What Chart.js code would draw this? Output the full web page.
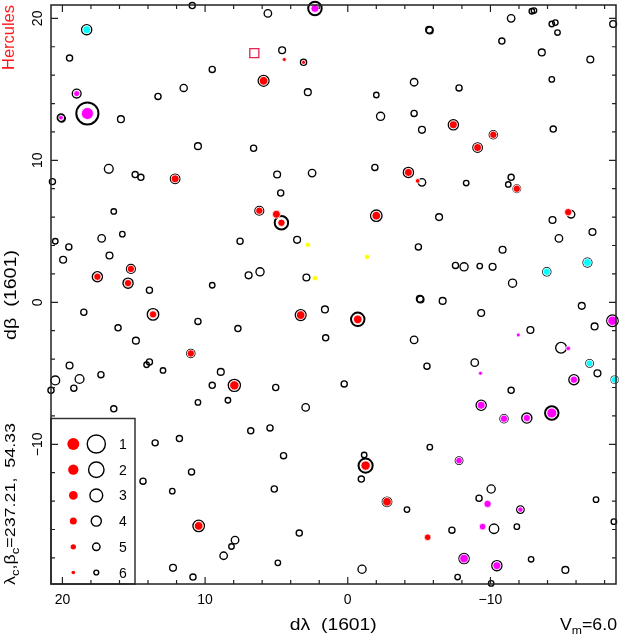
<!DOCTYPE html>
<html>
<head>
<meta charset="utf-8">
<script src="https://cdn.jsdelivr.net/npm/chart.js@4.4.1/dist/chart.umd.min.js"></script>
<style>
  html, body { margin: 0; padding: 0; background: #fff; }
  #wrap { width: 620px; height: 636px; }
</style>
</head>
<body>
<div id="wrap"><canvas id="chart__stars" width="620" height="636"></canvas></div>
<script>
// every star is [dλ, dβ, magnitude]
const openStars = [
  [10.9, 20.9, 5.5], [18.3, 19.2, 4], [19.5, 17.2, 5.5], [9.5, 16.4, 5.5], [19.0, 14.7, 4.5],
  [11.5, 15.1, 5.1], [13.3, 14.5, 5.5], [18.25, 13.3, -0.5], [20.1, 13.0, 5], [20.05, 12.95, 5.1],
  [15.9, 12.9, 5.25], [10.5, 11.0, 5.25], [16.75, 9.4, 4.5], [14.9, 9.0, 5.5], [14.5, 8.8, 5.5],
  [12.1, 8.7, 4.25], [20.7, 8.5, 5.5], [16.4, 6.4, 5.75], [5.6, 20.35, 5], [2.3, 20.7, 2.75],
  [4.6, 17.75, 5.25], [3.1, 16.9, 5.5], [5.9, 15.6, 3.75], [2.8, 14.8, 5.25], [-2.0, 14.6, 5.75],
  [-4.65, 15.5, 5], [-2.3, 13.1, 4.75], [-4.65, 13.3, 5.5], [-5.2, 12.15, 5.25], [6.6, 10.85, 5.5],
  [4.95, 9.0, 5.25], [2.5, 9.1, 5], [-1.9, 9.5, 5.5], [-4.25, 9.15, 4], [-5.2, 8.45, 5],
  [4.7, 7.7, 5.5], [6.2, 6.45, 4.5], [4.65, 5.6, 2.75], [-2.0, 6.1, 3.5], [-5.7, 19.2, 5.25],
  [-5.75, 19.15, 5.25], [-11.45, 20.0, 5], [-12.9, 20.5, 5.75], [-13.05, 20.55, 5.75], [-14.3, 19.6, 5.75],
  [-14.55, 19.7, 5.75], [-14.7, 19.0, 5.75], [-18.6, 19.6, 5.25], [-10.8, 18.4, 5.5], [-13.6, 17.6, 5.25],
  [-17.0, 17.1, 5.25], [-7.8, 15.1, 5.5], [-14.3, 15.7, 5.75], [-7.4, 12.5, 4], [-10.2, 11.8, 4.75],
  [-9.1, 10.9, 4.25], [-14.4, 12.2, 5.5], [-8.3, 8.4, 5.75], [-11.45, 8.8, 5.5], [-11.25, 8.3, 5.75],
  [-11.85, 8.0, 5], [-15.65, 6.2, 5], [-6.4, 6.0, 5.25], [20.5, 4.3, 5.75], [19.55, 3.9, 5.5],
  [17.25, 4.5, 5], [15.8, 4.8, 5.75], [19.95, 3.0, 5.25], [16.7, 3.3, 5.25], [15.2, 2.35, 4.5],
  [17.55, 1.8, 4], [15.4, 1.35, 4], [13.9, 0.85, 5.5], [9.5, 1.2, 5.75], [18.5, -0.7, 5.5],
  [13.65, -0.85, 3.5], [10.5, -1.35, 5.5], [16.1, -1.8, 5.5], [14.85, -2.7, 5.25], [11.0, -3.6, 4.75],
  [14.1, -4.4, 5.75], [13.9, -4.2, 5.5], [12.95, -4.8, 5.75], [19.5, -4.45, 5.25], [20.5, -5.5, 4.5],
  [20.8, -6.2, 5.5], [18.8, -5.4, 4.5], [19.2, -6.05, 5.5], [17.3, -5.1, 5.5], [16.4, -7.5, 5.5],
  [9.5, -5.85, 5.5], [10.5, -7.05, 5.75], [7.55, 4.3, 5.5], [3.55, 4.4, 5.25], [2.9, 1.75, 5.25],
  [6.95, 1.9, 5.25], [6.15, 2.15, 4.75], [-4.95, 3.9, 5.5], [-5.05, 0.25, 5.25], [-5.1, 0.2, 5.25],
  [3.3, -0.9, 3.75], [1.6, -0.5, 5.25], [-0.7, -1.2, 2.75], [7.7, -1.85, 5.5], [1.55, -2.5, 5.5],
  [-4.65, -2.65, 5], [8.9, -4.9, 5.25], [7.95, -5.85, 3.25], [8.4, -6.9, 5.75], [5.05, -6.0, 5.5],
  [0.25, -5.75, 5.5], [2.95, -7.4, 5], [-14.35, 5.8, 5.25], [-17.15, 4.95, 5.25], [-14.8, 4.5, 5],
  [-10.85, 3.7, 5.25], [-7.55, 2.6, 5.5], [-8.15, 2.5, 4.75], [-9.25, 2.55, 5.75], [-10.15, 2.5, 5.25],
  [-11.55, 1.35, 4.75], [-13.95, 2.15, 4.75], [-16.8, 2.8, 4.5], [-6.65, 0.1, 5.25], [-16.4, -0.25, 5.25],
  [-9.35, -0.75, 5.25], [-18.55, -1.3, 3.5], [-12.8, -1.95, 5.25], [-17.3, -1.7, 5.25], [-14.95, -3.2, 3.75],
  [-8.9, -4.25, 5], [-5.55, -4.5, 5.5], [-16.95, -4.3, 5], [-17.5, -5.0, 5.25], [-15.85, -5.45, 4],
  [-18.7, -5.45, 5.25], [-11.45, -6.2, 5.5], [-9.35, -7.25, 4], [-10.95, -8.2, 4.75], [-12.55, -8.15, 4],
  [-14.3, -7.8, 2.75], [13.5, -9.9, 5.5], [11.8, -9.6, 5.5], [10.95, -11.95, 5.5], [14.35, -12.6, 5.5],
  [12.3, -13.3, 5.75], [10.45, -15.75, 3.5], [12.25, -18.7, 5.25], [10.85, -19.35, 5.5], [6.8, -9.05, 5.5],
  [5.45, -8.85, 5.5], [4.5, -10.8, 5.5], [5.15, -13.15, 5.5], [-1.15, -10.75, 5.75], [-1.25, -11.5, 2.5],
  [-0.95, -12.45, 5.5], [-2.75, -14.05, 4.25], [-4.15, -14.6, 5.75], [3.4, -16.25, 5.5], [7.9, -16.75, 5],
  [8.15, -17.2, 5.75], [8.7, -17.85, 5], [4.9, -18.35, 5.75], [-1.0, -18.8, 4.75], [-5.75, -10.2, 5.75],
  [-7.8, -11.15, 5], [-10.05, -13.15, 4.75], [-9.2, -13.8, 5.5], [-12.1, -14.6, 5], [-17.4, -13.9, 5.75],
  [-18.65, -15.45, 5.75], [-7.3, -16.05, 5.5], [-10.25, -15.95, 4.25], [-11.85, -15.8, 5.75], [-8.15, -18.05, 4],
  [-10.45, -18.55, 4], [-12.85, -18.1, 5.75], [-15.25, -18.85, 5.25], [-7.7, -19.35, 5.75], [-10.05, -19.8, 5.75]
];

const redStars = [
  [12.1, 8.7, 3.4], [4.45, 17.1, 5.8], [3.1, 16.9, 5.8], [5.9, 15.6, 3], [-4.25, 9.15, 3.4],
  [-4.9, 8.55, 5.4], [6.2, 6.45, 3.8], [5.0, 6.2, 3.4], [4.65, 5.6, 3.8], [-2.0, 6.1, 3],
  [-7.4, 12.5, 3.4], [-10.2, 11.8, 3.8], [-9.1, 10.9, 3.4], [-11.85, 8.0, 3.8], [-15.45, 6.35, 3.8],
  [15.2, 2.35, 3.8], [17.55, 1.8, 3.8], [15.4, 1.35, 3.8], [13.65, -0.85, 3.8], [11.0, -3.6, 3.8],
  [3.3, -0.9, 3], [-0.7, -1.2, 3], [7.95, -5.85, 2.6], [10.45, -15.75, 3], [-1.25, -11.5, 2.6],
  [-2.75, -14.05, 3], [-5.6, -16.55, 4.2]
];

const magentaStars = [
  [19.0, 14.7, 4.6], [18.25, 13.3, 1], [20.1, 13.0, 5.4], [2.3, 20.7, 3.4], [-18.55, -1.3, 2.6],
  [-11.95, -2.3, 5.8], [-15.45, -3.25, 5.4], [-9.3, -5.0, 5.8], [-15.85, -5.45, 3.8], [-9.35, -7.25, 3.4],
  [-10.95, -8.2, 3.8], [-12.55, -8.15, 3.8], [-14.3, -7.8, 2.2], [-7.8, -11.15, 4.2], [-9.8, -14.2, 3.8],
  [-12.1, -14.6, 5], [-9.45, -15.8, 4.2], [-8.15, -18.05, 3], [-10.45, -18.55, 3.4]
];

const cyanStars = [
  [18.3, 19.2, 3.4], [-13.95, 2.15, 3.8], [-16.8, 2.8, 3.4], [-16.95, -4.3, 4.2], [-18.7, -5.45, 4.2]
];

const yellowStars = [
  [2.8, 4.05, 5], [-1.35, 3.2, 5], [2.3, 1.7, 5]
];

const squareMarks = [
  [6.55, 17.55]
];

const xLabelTicks = [20, 10, 0, -10];
const yLabelTicks = [20, 10, 0, -10];
const legendMags = [1, 2, 3, 4, 5, 6];


function openRadius(m) { return 10.4 - 1.333 * m; }
function dotRadius(m) { return (41 - 5 * m) / 6; }

function toPoints(list) {
  return list.map(function (s) { return { x: s[0], y: s[1], m: s[2] }; });
}

function dotSet(list, color) {
  return {
    data: toPoints(list),
    pointRadius: function (c) { return dotRadius(c.raw.m); },
    pointHoverRadius: function (c) { return dotRadius(c.raw.m); },
    pointBackgroundColor: color,
    pointBorderColor: '#fff',
    pointBorderWidth: 0.8,
    clip: false
  };
}

// text helper, optionally rotated and squeezed to a given width
function drawRuns(ctx, runs, x, y, o) {
  ctx.save();
  ctx.translate(x, y);
  if (o.rotate) ctx.rotate(-Math.PI / 2);
  let total = 0;
  runs.forEach(function (r) {
    ctx.font = r[1] ? o.subFont : o.font;
    total += ctx.measureText(r[0]).width;
  });
  let sx = o.width ? o.width / total : 1;
  ctx.scale(sx, 1);
  let start = o.align === 'right' ? -total : (o.align === 'left' ? 0 : -total / 2);
  ctx.fillStyle = o.color || '#000';
  ctx.textBaseline = 'alphabetic';
  ctx.textAlign = 'left';
  runs.forEach(function (r) {
    ctx.font = r[1] ? o.subFont : o.font;
    ctx.fillText(r[0], start, r[1] ? 4 : 0);
    start += ctx.measureText(r[0]).width;
  });
  ctx.restore();
}

const frameDecor = {
  id: 'frameDecor',
  afterDraw: function (chart) {
    const ctx = chart.ctx;
    const a = chart.chartArea;
    const xs = chart.scales.x;
    const ys = chart.scales.y;

    // legend box
    ctx.save();
    ctx.strokeStyle = '#333';
    ctx.lineWidth = 1.5;
    ctx.strokeRect(a.left, 418.5, 84, a.bottom - 418.5);
    legendMags.forEach(function (m, i) {
      let y = 444 + i * 25.7;
      ctx.beginPath();
      ctx.fillStyle = '#ff0000';
      ctx.arc(73.3, y, dotRadius(m), 0, Math.PI * 2);
      ctx.fill();
      ctx.beginPath();
      ctx.strokeStyle = '#000';
      ctx.lineWidth = 1.4;
      ctx.arc(96.3, y, openRadius(m), 0, Math.PI * 2);
      ctx.stroke();
      ctx.fillStyle = '#000';
      ctx.font = '14px "Liberation Sans", Arial, sans-serif';
      ctx.textAlign = 'center';
      ctx.fillText(String(m), 123, y + 5);
    });
    ctx.restore();

    // frame and inward ticks
    ctx.save();
    ctx.strokeStyle = '#222';
    ctx.lineWidth = 1.5;
    ctx.strokeRect(a.left, a.top, a.right - a.left, a.bottom - a.top);
    ctx.lineWidth = 1.2;
    ctx.beginPath();
    for (let v = -18; v <= 20; v += 2) {
      let len = v % 10 === 0 ? 7 : 4;
      let px = xs.getPixelForValue(v);
      if (px > a.left && px < a.right) {
        ctx.moveTo(px, a.bottom); ctx.lineTo(px, a.bottom - len);
        ctx.moveTo(px, a.top); ctx.lineTo(px, a.top + len);
      }
      let py = ys.getPixelForValue(v);
      if (py > a.top && py < a.bottom) {
        ctx.moveTo(a.left, py); ctx.lineTo(a.left + len, py);
        ctx.moveTo(a.right, py); ctx.lineTo(a.right - len, py);
      }
    }
    ctx.stroke();
    ctx.restore();

    const tickFont = '14px "Liberation Sans", Arial, sans-serif';
    xLabelTicks.forEach(function (v) {
      let t = v < 0 ? '\u2212' + Math.abs(v) : String(v);
      drawRuns(ctx, [[t, 0]], xs.getPixelForValue(v), 604, { font: tickFont });
    });
    yLabelTicks.forEach(function (v) {
      let t = v < 0 ? '\u2212' + Math.abs(v) : String(v);
      drawRuns(ctx, [[t, 0]], 41.5, ys.getPixelForValue(v), { font: tickFont, rotate: true });
    });

    const titleFont = '16px "Liberation Sans", Arial, sans-serif';
    const subFont = '11px "Liberation Sans", Arial, sans-serif';
    drawRuns(ctx, [['d\u03bb  (1601)', 0]], 333.3, 630, { font: titleFont, width: 87 });
    drawRuns(ctx, [['V', 0], ['m', 1], ['=6.0', 0]], 617, 630, { font: titleFont, subFont: subFont, width: 57, align: 'right' });
    drawRuns(ctx, [['d\u03b2  (1601)', 0]], 15.5, 295, { font: titleFont, width: 90, rotate: true });
    drawRuns(ctx, [['Hercules', 0]], 14.3, 37.5, { font: titleFont, width: 65, rotate: true, color: '#ff1a1a' });
    drawRuns(ctx, [['\u03bb', 0], ['c', 1], [',', 0], ['\u03b2', 0], ['c', 1], ['=237.21,  54.33', 0]],
      14.5, 504, { font: '15px "Liberation Sans", Arial, sans-serif', subFont: subFont, width: 162, rotate: true });
  }
};


var stars = document.getElementById('chart__stars').getContext('2d');
var chart__stars = new Chart(stars, {
  type: 'scatter',
  data: {
    datasets: [
      dotSet(redStars, '#ff0000'),
      dotSet(magentaStars, '#ff00ff'),
      dotSet(cyanStars, '#00ffff'),
      dotSet(yellowStars, '#ffff00'),
      {
        data: squareMarks.map(function (s) { return { x: s[0], y: s[1] }; }),
        pointStyle: 'rect',
        pointRadius: 6.4,
        pointHoverRadius: 6.4,
        pointBackgroundColor: 'rgba(0,0,0,0)',
        pointBorderColor: '#e8234f',
        pointBorderWidth: 1.3,
        clip: false
      },
      {
        data: toPoints(openStars),
        pointRadius: function (c) { return openRadius(c.raw.m); },
        pointHoverRadius: function (c) { return openRadius(c.raw.m); },
        pointBackgroundColor: 'rgba(0,0,0,0)',
        pointBorderColor: '#000',
        pointBorderWidth: function (c) { return c.raw.m < 3 ? 2 : 1.35; },
        clip: false
      }
    ]
  },
  options: {
    responsive: false,
    animation: false,
    events: [],
    layout: { autoPadding: false, padding: { left: 51, top: 5, right: 4, bottom: 52 } },
    plugins: { legend: { display: false }, tooltip: { enabled: false } },
    scales: {
      x: { type: 'linear', reverse: true, min: -18.8, max: 20.8, display: false },
      y: { type: 'linear', min: -19.84, max: 20.94, display: false }
    }
  },
  plugins: [frameDecor]
});
</script>
</body>
</html>
